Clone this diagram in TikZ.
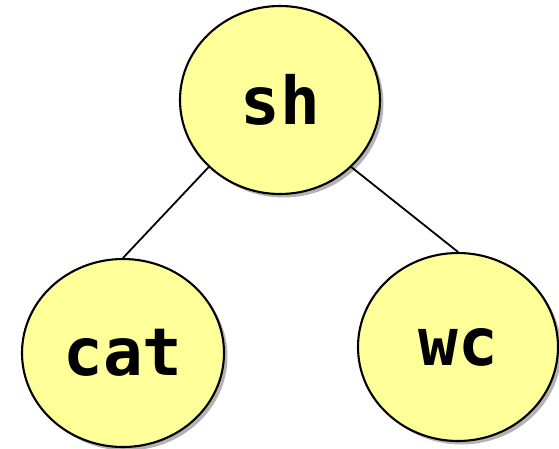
\documentclass[tikz,border=0pt]{standalone}
\usepackage{fontspec}
\newfontfamily\nodefont{DejaVu Sans Mono}
\usetikzlibrary{shapes.geometric,shadows}
\definecolor{nodefill}{HTML}{FFFF99}
\tikzset{
  prog/.style={ellipse, draw=black, line width=2.1pt, fill=nodefill,
    minimum width=200pt, minimum height=188pt, inner sep=0pt,
    drop shadow={shadow xshift=3.5pt, shadow yshift=-3.5pt, fill=black!50, opacity=0.6},
    font=\nodefont\bfseries\fontsize{66}{66}\selectfont},
  link/.style={line width=1.8pt, draw=black}
}
\begin{document}
\begin{tikzpicture}[x=1pt,y=-1pt]
\useasboundingbox (0,0) rectangle (559,449);
\node[prog] (sh) at (280,100) {sh};
\node[prog, minimum width=202pt] (cat) at (123,353) {cat};
\node[prog] (wc) at (458,347) {wc};
\draw[link] (sh.south west) -- (cat.north);
\draw[link] (sh.south east) -- (wc.north);
\end{tikzpicture}
\end{document}
